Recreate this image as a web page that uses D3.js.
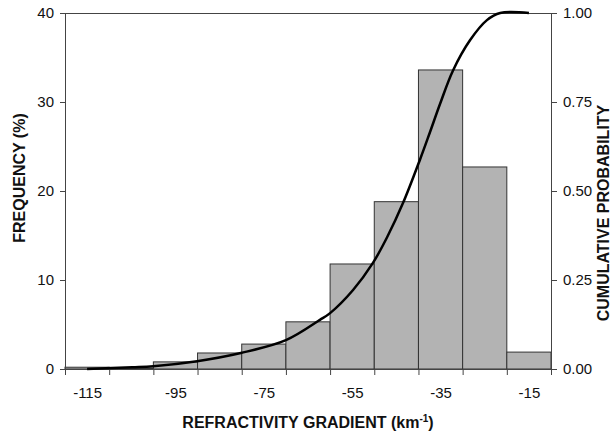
<!DOCTYPE html>
<html><head><meta charset="utf-8">
<script src="https://cdn.jsdelivr.net/npm/d3@7"></script>
<style>
body{margin:0;background:#fff;}
svg{display:block;font-family:Arial,"Liberation Sans",sans-serif;}
</style></head><body>
<svg id="c" width="613" height="434"></svg>
<script>
// Data
const binCenters = [-115,-105,-95,-85,-75,-65,-55,-45,-35,-25,-15];
const frequency  = [0.2,0.1,0.8,1.8,2.8,5.3,11.8,18.8,33.6,22.7,1.9];
const cumX = [-115,-104.8,-100,-90.1,-80.2,-70,-62.3,-60,-54.8,-50.3,-47.1,-43.5,-39.6,-37.4,-35.1,-32.2,-28.3,-24.5,-21.5,-15];
const cumY = [0.0,0.005,0.008,0.022,0.045,0.081,0.138,0.157,0.222,0.298,0.370,0.466,0.590,0.665,0.745,0.838,0.924,0.980,1.0,1.0];
const xTickLabels = [-115,-95,-75,-55,-35,-15];
const yLeftTicks = [0,10,20,30,40];
const yRightTicks = [0,0.25,0.5,0.75,1.0];

const L=65,R=551,T=13,B=369;
const svg=d3.select("#c");
const x=d3.scaleLinear().domain([-120,-10]).range([L,R]);
const yL=d3.scaleLinear().domain([0,40]).range([B,T]);
const yR=d3.scaleLinear().domain([0,1]).range([B,T]);
const axisCol="#444";

// bars
svg.append("g").selectAll("rect").data(binCenters).join("rect")
  .attr("x",(d)=>x(d-5)).attr("width",(d)=>x(d+5)-x(d-5))
  .attr("y",(d,i)=>yL(frequency[i])).attr("height",(d,i)=>B-yL(frequency[i]))
  .attr("fill","#b3b3b3").attr("stroke","#333").attr("stroke-width",1);

// top border
svg.append("line").attr("x1",L).attr("x2",R).attr("y1",T+0.5).attr("y2",T+0.5).attr("stroke",axisCol);

// left axis
svg.append("g").attr("transform",`translate(${L},0)`)
  .call(d3.axisLeft(yL).tickValues(yLeftTicks).tickSize(5).tickPadding(6).tickFormat(d=>String(d)));
// right axis
svg.append("g").attr("transform",`translate(${R},0)`)
  .call(d3.axisRight(yR).tickValues(yRightTicks).tickSize(6).tickPadding(6).tickFormat(d=>d.toFixed(2)));
// bottom axis: ticks at bin edges
const edges=binCenters.map(d=>d-5).concat([binCenters[binCenters.length-1]+5]);
svg.append("g").attr("transform",`translate(0,${B})`)
  .call(d3.axisBottom(x).tickValues(edges).tickSize(6).tickFormat(""));
svg.append("g").attr("transform",`translate(0,${B})`)
  .call(d3.axisBottom(x).tickValues(xTickLabels).tickSize(0).tickPadding(18).tickFormat(d=>String(d)))
  .call(g=>g.select(".domain").remove());

svg.selectAll(".domain").attr("stroke",axisCol);
svg.selectAll(".tick line").attr("stroke",axisCol);
svg.selectAll(".tick text").attr("font-size",15).attr("fill","#111").attr("font-family","Arial,'Liberation Sans',sans-serif");

// cumulative curve
const line=d3.line().x((d,i)=>x(cumX[i])).y((d,i)=>yR(cumY[i])).curve(d3.curveCatmullRom.alpha(0.5));
svg.append("path").datum(cumX).attr("d",line).attr("fill","none").attr("stroke","#000").attr("stroke-width",2.5).attr("stroke-linejoin","round");

// titles
const xt=svg.append("text").attr("x",308).attr("y",428).attr("text-anchor","middle")
  .attr("font-size",16).attr("font-weight","bold").attr("fill","#111");
xt.append("tspan").text("REFRACTIVITY GRADIENT (km");
xt.append("tspan").attr("font-size",10).attr("dy",-6).text("-1");
xt.append("tspan").attr("dy",6).text(")");

svg.append("text").attr("transform","translate(25,178) rotate(-90)").attr("text-anchor","middle")
  .attr("font-size",16).attr("font-weight","bold").attr("fill","#111").text("FREQUENCY (%)");
svg.append("text").attr("transform","translate(609,213) rotate(-90)").attr("text-anchor","middle")
  .attr("font-size",16).attr("font-weight","bold").attr("fill","#111").text("CUMULATIVE PROBABILITY");
</script></body></html>
